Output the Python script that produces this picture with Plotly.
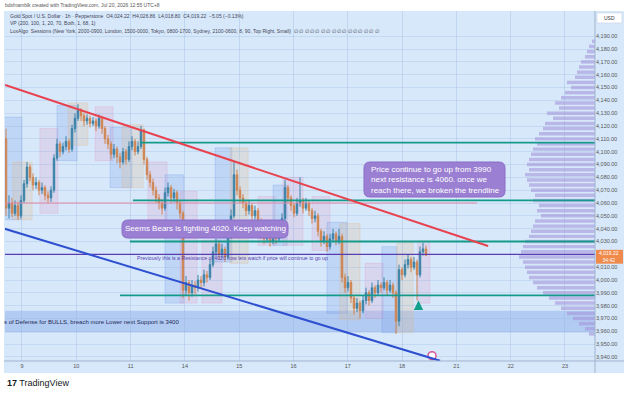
import plotly.graph_objects as go

# ---------------- data ----------------
closes = [4056, 4060, 4052, 4058, 4050, 4062, 4075, 4088, 4080, 4074,
          4076, 4070, 4072, 4066, 4064, 4070, 4095, 4106, 4100, 4104,
          4108, 4102, 4118, 4126, 4132, 4128, 4124, 4126, 4122, 4124,
          4120, 4126, 4118, 4110, 4106, 4098, 4102, 4096, 4092, 4100,
          4094, 4104, 4108, 4100, 4104, 4117, 4094, 4082, 4076, 4070,
          4064, 4060, 4056, 4068, 4072, 4064, 4068, 4060, 4052, 3992,
          3998, 3990, 3996, 3994, 4000, 3998, 4004, 4002, 4012, 4022,
          4028, 4020, 4024, 4018, 4034, 4050, 4082, 4070, 4064, 4060,
          4054, 4058, 4050, 4054, 4046, 4036, 4032, 4034, 4030, 4036,
          4032, 4036, 4048, 4072, 4064, 4058, 4052, 4060, 4062, 4056,
          4060, 4054, 4048, 4050, 4038, 4030, 4034, 4026, 4032, 4036,
          4030, 4034, 4002, 3994, 3998, 3986, 3978, 3982, 3976, 3984,
          3990, 3984, 3994, 3990, 3996, 3994, 3998, 3992, 3996, 3990,
          3968, 4008, 4004, 4012, 4016, 4010, 4014, 4004, 4022, 4024.22,
          4019.22]
highs = [4118, 4066, 4064, 4062, 4061, 4066, 4078, 4092, 4090, 4083,
         4080, 4078, 4076, 4074, 4069, 4073, 4098, 4110, 4108, 4107,
         4112, 4110, 4121, 4130, 4137, 4134, 4130, 4129, 4128, 4127,
         4126, 4129, 4128, 4120, 4113, 4108, 4106, 4104, 4099, 4103,
         4102, 4108, 4112, 4110, 4108, 4120, 4118, 4096, 4085, 4079,
         4073, 4067, 4063, 4072, 4076, 4074, 4071, 4070, 4062, 4054,
         4003, 4000, 4000, 3999, 4004, 4003, 4008, 4007, 4016, 4026,
         4032, 4030, 4028, 4026, 4038, 4055, 4092, 4086, 4073, 4067,
         4062, 4062, 4060, 4058, 4056, 4048, 4039, 4038, 4036, 4040,
         4038, 4040, 4052, 4078, 4074, 4066, 4060, 4064, 4080, 4064,
         4064, 4062, 4056, 4054, 4052, 4040, 4038, 4036, 4036, 4040,
         4038, 4040, 4036, 4005, 4003, 4000, 3988, 3986, 3984, 3988,
         3994, 3992, 3998, 3996, 4000, 3998, 4002, 4000, 4000, 3998,
         3992, 4012, 4010, 4016, 4020, 4018, 4018, 4016, 4026, 4029,
         4026.86]
lows = [4050, 4048, 4049, 4050, 4047, 4048, 4060, 4072, 4077, 4070,
        4071, 4066, 4067, 4062, 4060, 4061, 4068, 4093, 4096, 4098,
        4101, 4099, 4100, 4115, 4124, 4124, 4120, 4121, 4119, 4120,
        4116, 4118, 4114, 4106, 4102, 4094, 4095, 4091, 4087, 4090,
        4090, 4092, 4101, 4097, 4098, 4102, 4090, 4078, 4072, 4066,
        4060, 4055, 4051, 4054, 4065, 4060, 4061, 4055, 4048, 3986,
        3988, 3984, 3987, 3989, 3991, 3993, 3995, 3998, 4000, 4010,
        4019, 4016, 4017, 4014, 4016, 4032, 4048, 4066, 4060, 4056,
        4050, 4051, 4046, 4047, 4042, 4032, 4028, 4029, 4026, 4028,
        4028, 4030, 4034, 4046, 4060, 4054, 4049, 4050, 4057, 4052,
        4054, 4050, 4044, 4045, 4034, 4026, 4028, 4022, 4024, 4030,
        4027, 4028, 3998, 3990, 3991, 3982, 3973, 3975, 3970, 3974,
        3981, 3980, 3982, 3986, 3988, 3990, 3992, 3988, 3990, 3986,
        3958, 3964, 4000, 4002, 4009, 4006, 4008, 3984, 4002, 4019,
        4018.80]
first_open = 4110
opens = [first_open] + closes[:-1]

day_labels = ["9", "10", "11", "14", "15", "16", "17", "18", "21", "22", "23"]
# 4,020 is hidden behind the live price tag, as on the reference
price_ticks = [3940, 3950, 3960, 3970, 3980, 3990, 4000, 4010, 4030, 4040,
               4050, 4060, 4070, 4080, 4090, 4100, 4110, 4120, 4130, 4140, 4150,
               4160, 4170, 4180, 4190]
last_price = 4019.22

# horizontal key levels
teal_levels = [4107, 4062, 4030, 3988]
teal_starts = [44.7, 42.3, 41.3, 38.0]       # bar index where each level starts
pink_level = 4060
purple_level = 4020
support_zone = (3959, 3976)

# trendlines (bar index, price)
red_trend = [(-0.3, 4152), (160.7, 4026.5)]
blue_trend = [(-2.0, 4041), (144.7, 3937)]

# session boxes: kind, start bar, end bar, high, low
sess_kind = ["b", "o", "p", "b", "o", "p", "b", "o", "p", "b", "p", "p", "b", "o",
             "p", "b", "p", "p", "b", "o", "p", "b", "o", "p"]
sess_i0 = [-1.0, 2.3, 11.3, 17.0, 20.7, 29.7, 34.7, 38.7, 47.3, 53.0, 58.0, 65.3,
           69.7, 74.7, 84.0, 89.0, 92.3, 102.0, 107.0, 111.3, 119.7, 125.3, 130.3, 137.3]
sess_i1 = [5.3, 8.7, 17.3, 23.7, 27.3, 35.7, 42.0, 45.7, 53.7, 59.3, 63.7, 72.0,
           75.3, 80.7, 89.7, 93.7, 99.0, 108.0, 113.7, 118.0, 125.7, 130.3, 135.7, 141.3]
sess_hi = [4127, 4092, 4118, 4136, 4138, 4135, 4119, 4121, 4092, 4082, 4069, 4031,
           4103, 4103, 4065, 4074, 4080, 4065, 4045, 4044, 4013, 4026, 4029, 4030]
sess_lo = [4047, 4047, 4052, 4093, 4105, 4093, 4072, 4072, 4047, 3982, 3982, 3982,
           4014, 4013, 4027, 4027, 4027, 4023, 3974, 3969, 3970, 3959, 3959, 3982]

# volume profile (price bin centre, relative volume)
vp_prices = [4186, 4182, 4178, 4174, 4170, 4166, 4162, 4158, 4154, 4150,
             4146, 4142, 4138, 4134, 4130, 4126, 4122, 4118, 4114, 4110,
             4106, 4102, 4098, 4094, 4090, 4086, 4082, 4078, 4074, 4070,
             4066, 4062, 4058, 4054, 4050, 4046, 4042, 4038, 4034, 4030,
             4026, 4022, 4018, 4014, 4010, 4006, 4002, 3998, 3994, 3990,
             3986, 3982, 3978, 3974, 3970, 3966, 3962, 3958]
vp_vol = [3, 6, 8, 10, 14, 16, 18, 20, 28, 24, 30, 34, 40, 36, 48, 42, 50,
          52, 56, 60, 58, 62, 64, 66, 68, 66, 70, 68, 66, 64, 60, 62, 56, 58,
          54, 60, 62, 64, 66, 70, 72, 74, 76, 72, 70, 68, 66, 62, 58, 52, 46,
          40, 34, 28, 22, 16, 10, 6]

# ---------------- layout helpers ----------------
W, H = 625, 396
PL, PR, PT, PB = 5, 595, 11, 361          # plot area in pixels
Y_TOP = 4000 + (280 - PT) / 1.283
Y_BOT = 4000 - (PB - 280) / 1.283
X_LEFT = (PL - 6) / 3
X_RIGHT = (PR - 6) / 3


def fx(px):
    return (px - PL) / (PR - PL)


def fy(py):
    return (PB - py) / (PB - PT)


def rounded(x0, y0, x1, y1, r):
    rx, ry = r / (PR - PL), r / (PB - PT)
    a, b, c, d = fx(x0), fy(y1), fx(x1), fy(y0)
    return (f"M {a+rx},{b} L {c-rx},{b} Q {c},{b} {c},{b+ry} L {c},{d-ry} "
            f"Q {c},{d} {c-rx},{d} L {a+rx},{d} Q {a},{d} {a},{d-ry} "
            f"L {a},{b+ry} Q {a},{b} {a+rx},{b} Z")


FONT = "Liberation Sans"
BG = "#d7e8fb"
UP = "#3a82a8"
DN = "#cf8450"

x_idx = list(range(len(closes)))
fig = go.Figure()

# volume profile
fig.add_trace(go.Bar(
    y=vp_prices, x=vp_vol, orientation="h", xaxis="x2", yaxis="y",
    width=2.7, marker=dict(color="rgba(165,150,218,0.6)", line=dict(width=0)),
    hoverinfo="skip", showlegend=False))

fig.add_trace(go.Candlestick(
    x=x_idx, open=opens, high=highs, low=lows, close=closes,
    increasing=dict(line=dict(color=UP, width=1), fillcolor=UP),
    decreasing=dict(line=dict(color=DN, width=1), fillcolor=DN),
    whiskerwidth=0, showlegend=False, hoverinfo="skip"))

shapes = []
# background panel
shapes.append(dict(type="rect", xref="paper", yref="paper", x0=fx(4), x1=fx(624),
                   y0=fy(373), y1=fy(11), fillcolor=BG, line=dict(width=0), layer="below"))

kind_col = {"b": ("rgba(110,150,230,0.22)", "rgba(110,150,230,0.45)"),
            "p": ("rgba(225,150,190,0.22)", "rgba(225,150,190,0.45)"),
            "o": ("rgba(225,185,140,0.25)", "rgba(225,185,140,0.5)")}
for k, a, b, hi, lo in zip(sess_kind, sess_i0, sess_i1, sess_hi, sess_lo):
    f, l = kind_col[k]
    shapes.append(dict(type="rect", xref="x", yref="y", x0=a, x1=b, y0=lo, y1=hi,
                       fillcolor=f, line=dict(color=l, width=0.6), layer="below"))

# support zone band
shapes.append(dict(type="rect", xref="paper", yref="y", x0=0, x1=1,
                   y0=support_zone[0], y1=support_zone[1],
                   fillcolor="rgba(110,150,225,0.35)", line=dict(width=0), layer="below"))

# key levels
shapes.append(dict(type="line", xref="x", yref="y", x0=X_LEFT, x1=157,
                   y0=pink_level, y1=pink_level, line=dict(color="#e58aa6", width=1)))
for lv, st in zip(teal_levels, teal_starts):
    shapes.append(dict(type="line", xref="x", yref="y", x0=st, x1=X_RIGHT,
                       y0=lv, y1=lv, line=dict(color="#14998a", width=1.8)))
shapes.append(dict(type="line", xref="x", yref="y", x0=X_LEFT, x1=X_RIGHT,
                   y0=purple_level, y1=purple_level, line=dict(color="#5a3db0", width=1.4)))

# trendlines
shapes.append(dict(type="line", xref="x", yref="y", x0=red_trend[0][0], y0=red_trend[0][1],
                   x1=red_trend[1][0], y1=red_trend[1][1], line=dict(color="#e8424f", width=2)))
shapes.append(dict(type="line", xref="x", yref="y", x0=blue_trend[0][0], y0=blue_trend[0][1],
                   x1=blue_trend[1][0], y1=blue_trend[1][1], line=dict(color="#2d4fd0", width=2)))

# note boxes
shapes.append(dict(type="path", xref="paper", yref="paper", path=rounded(122, 220, 288, 238, 6),
                   fillcolor="#9b7fd2", line=dict(color="#8a6cc8", width=1)))
shapes.append(dict(type="path", xref="paper", yref="paper", path=rounded(364, 162, 505, 197, 6),
                   fillcolor="#9b7fd2", line=dict(color="#8a6cc8", width=1)))

# price scale separator and x axis line
shapes.append(dict(type="line", xref="paper", yref="paper", x0=1, x1=1, y0=fy(373), y1=fy(11),
                   line=dict(color="#9fb3cc", width=1)))
shapes.append(dict(type="line", xref="paper", yref="paper", x0=fx(4), x1=fx(624), y0=0, y1=0,
                   line=dict(color="#9fb3cc", width=1)))
# current price tag
shapes.append(dict(type="rect", xref="paper", yref="y", x0=fx(596), x1=fx(623),
                   y0=last_price - 6.5, y1=last_price + 4.3, fillcolor="#f08a4b",
                   line=dict(width=0)))
# USD box
shapes.append(dict(type="rect", xref="paper", yref="paper", x0=fx(597), x1=fx(622),
                   y0=fy(23), y1=fy(13), fillcolor="white", line=dict(color="#c8d4e2", width=0.6)))

ann = []


def text(px, py, s, size=5, color="#555", xanchor="left", yanchor="middle", **kw):
    ann.append(dict(xref="paper", yref="paper", x=fx(px), y=fy(py), text=s, showarrow=False,
                    xanchor=xanchor, yanchor=yanchor,
                    font=dict(family=FONT, size=size, color=color), **kw))


text(3, 5, "bdsfnamblk created with TradingView.com, Jul 20, 2026 12:55 UTC+8", 5, "#555")
text(8, 16, "Gold Spot / U.S. Dollar · 1h · Pepperstone  O4,024.22  H4,026.86  "
     "L4,018.80  C4,019.22  −5.05 (−0.13%)", 5, "#445")
text(8, 23.5, "VP (200, 100, 1, 20, 70, Both, 1, 68, 1)", 5, "#445")
text(8, 31, "LuxAlgo  Sessions (New York, 2000-0900, London, 1500-0000, Tokyo, 0800-1700, "
     "Sydney, 2100-0600, 8, 90, Top Right, Small)  ∅ ∅ ∅ ∅ ∅ ∅ ∅ ∅ ∅ ∅ ∅ ∅ ∅ ∅ ∅ ∅", 5, "#445")
text(205, 229, "Seems Bears is fighting 4020. Keep watching", 8, "white", xanchor="center")
ann.append(dict(xref="paper", yref="paper", x=fx(369), y=fy(180),
                text="Price continue to go up from 3990<br>next resistance is 4060. once we"
                     "<br>reach there, we broken the trendline",
                showarrow=False, xanchor="left", yanchor="middle", align="left",
                font=dict(family=FONT, size=8, color="white")))
text(135, 258, "Previously this is a Resistance of 4020 now lets watch if price will "
     "continue to go up", 5.2, "#5a3db0")
text(2, 322, "s of Defense for BULLS, breach more Lower next Support is 3400", 6, "#1e2a55")
text(609.5, 18, "USD", 5, "#333", xanchor="center")
ann.append(dict(xref="paper", yref="y", x=fx(609.5), y=last_price - 1, text="4,019.22<br>34:42",
                showarrow=False, xanchor="center", yanchor="middle",
                font=dict(family=FONT, size=5, color="white")))
text(5, 383, "<b>17</b> TradingView", 9, "#131722")

# green arrow under the last dip
ann.append(dict(xref="x", yref="y", x=137.5, y=3984, ax=0, ay=10, showarrow=True,
                arrowhead=2, arrowsize=0.75, arrowwidth=2.5, arrowcolor="#12a08a", text=""))

fig.update_layout(
    width=W, height=H, margin=dict(l=PL, r=W - PR, t=PT, b=H - PB),
    paper_bgcolor="white", plot_bgcolor="rgba(0,0,0,0)",
    shapes=shapes, annotations=ann, showlegend=False,
    xaxis=dict(range=[X_LEFT, X_RIGHT], rangeslider=dict(visible=False),
               tickvals=[5.33 + 18.1 * k for k in range(len(day_labels))], ticktext=day_labels,
               showgrid=True, gridcolor="rgba(150,180,220,0.35)", gridwidth=1,
               zeroline=False, showline=False, ticks="",
               tickfont=dict(family=FONT, size=5.5, color="#555")),
    xaxis2=dict(overlaying="x", range=[PR - PL, 0], visible=False, fixedrange=True),
    yaxis=dict(range=[Y_BOT, Y_TOP], side="right", tickvals=price_ticks,
               ticktext=[f"{v:,.2f}" for v in price_ticks],
               showgrid=True, gridcolor="rgba(150,180,220,0.3)", zeroline=False,
               ticks="", tickfont=dict(family=FONT, size=5.5, color="#555")),
)

# event marker near axis
fig.add_trace(go.Scatter(x=[142], y=[3941], mode="markers",
                         marker=dict(size=8, color="white", line=dict(color="#d9579a", width=1.5)),
                         hoverinfo="skip", showlegend=False))

fig.write_html("out.html")
